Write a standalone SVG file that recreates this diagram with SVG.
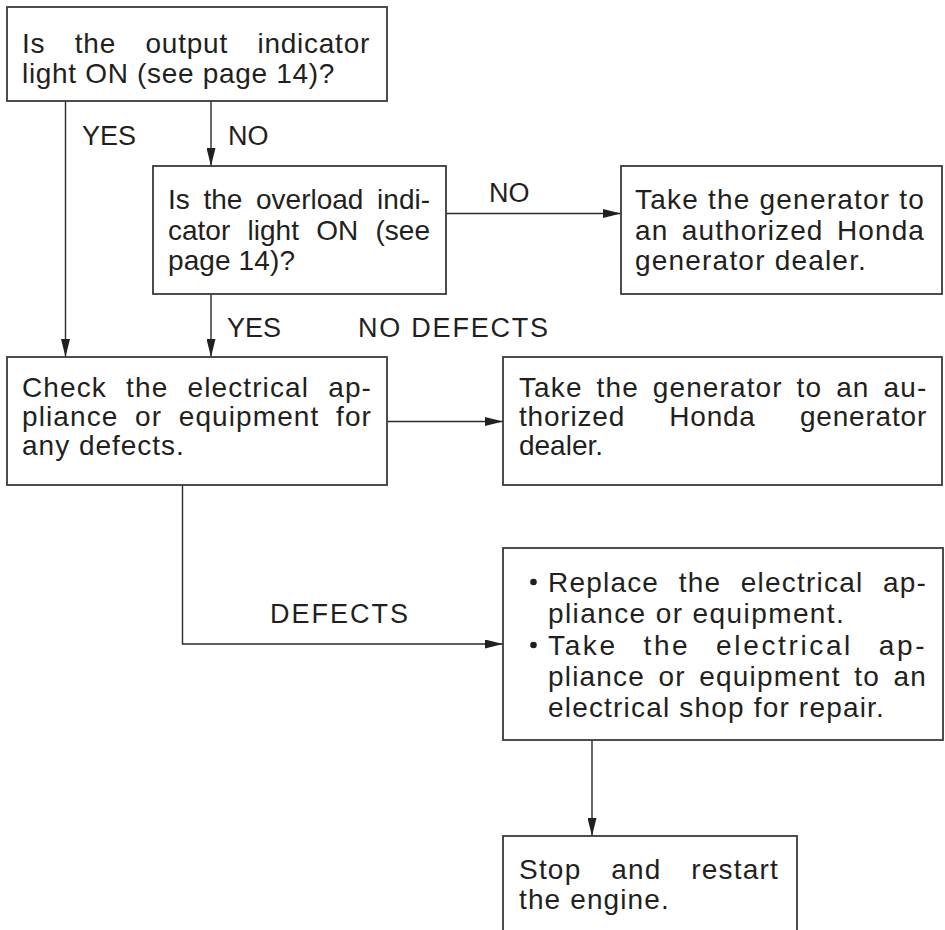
<svg xmlns="http://www.w3.org/2000/svg" width="945" height="930" viewBox="0 0 945 930">
<defs>
<style>
.box{fill:#fff;stroke:#3a3a3a;stroke-width:1.8}
.t{font-family:"Liberation Sans",Arial,sans-serif;font-size:28px;fill:#231f20}
.lbl{font-family:"Liberation Sans",Arial,sans-serif;font-size:27px;fill:#231f20}
.con{fill:none;stroke:#2a2a2a;stroke-width:1.4}
.dot{fill:#231f20}
</style>
<marker id="ah" markerWidth="18" markerHeight="9" refX="18" refY="4.5" orient="auto" markerUnits="userSpaceOnUse">
<path d="M0,0 L18,4.5 L0,9 z" fill="#231f20"/>
</marker>
</defs>
<rect width="945" height="930" fill="#fff"/>

<g id="connectors">
<path class="con" d="M65.5,101 V357" marker-end="url(#ah)"/>
<path class="con" d="M211,101 V166" marker-end="url(#ah)"/>
<path class="con" d="M446,213.5 H621" marker-end="url(#ah)"/>
<path class="con" d="M211,294 V357" marker-end="url(#ah)"/>
<path class="con" d="M387,421.5 H503" marker-end="url(#ah)"/>
<path class="con" d="M182.5,485 V644 H503" marker-end="url(#ah)"/>
<path class="con" d="M592,740 V836" marker-end="url(#ah)"/>
<text class="lbl" x="82" y="145">YES</text>
<text class="lbl" x="228" y="145">NO</text>
<text class="lbl" x="489" y="202">NO</text>
<text class="lbl" x="227" y="337">YES</text>
<text class="lbl" x="358" y="337" textLength="190" lengthAdjust="spacing">NO DEFECTS</text>
<text class="lbl" x="270" y="623" textLength="138" lengthAdjust="spacing">DEFECTS</text>
</g>

<g id="output-light">
<rect class="box" x="7" y="7" width="380" height="94"/>
<text class="t" x="22" y="53" style="letter-spacing:0.7px;word-spacing:21px" textLength="348" lengthAdjust="spacing">Is the output indicator</text>
<text class="t" x="22" y="83" style="letter-spacing:0.7px" textLength="313" lengthAdjust="spacing">light ON (see page 14)?</text>
</g>

<g id="overload-light">
<rect class="box" x="153" y="166" width="293" height="128"/>
<text class="t" x="168" y="209" style="word-spacing:5.9px" textLength="262" lengthAdjust="spacing">Is the overload indi-</text>
<text class="t" x="168" y="240" style="word-spacing:9.5px" textLength="262" lengthAdjust="spacing">cator light ON (see</text>
<text class="t" x="168" y="270" textLength="127" lengthAdjust="spacing">page 14)?</text>
</g>

<g id="dealer-1">
<rect class="box" x="621" y="166" width="321" height="128"/>
<text class="t" x="635" y="209" style="letter-spacing:1.1px" textLength="290" lengthAdjust="spacing">Take the generator to</text>
<text class="t" x="635" y="240" style="letter-spacing:1.1px;word-spacing:4.6px" textLength="290" lengthAdjust="spacing">an authorized Honda</text>
<text class="t" x="635" y="270" style="letter-spacing:1.1px" textLength="232" lengthAdjust="spacing">generator dealer.</text>
</g>

<g id="check-appliance">
<rect class="box" x="7" y="357" width="380" height="128"/>
<text class="t" x="22" y="397" style="letter-spacing:1.1px;word-spacing:10.4px" textLength="350" lengthAdjust="spacing">Check the electrical ap-</text>
<text class="t" x="22" y="426" style="letter-spacing:1.1px;word-spacing:7.7px" textLength="350" lengthAdjust="spacing">pliance or equipment for</text>
<text class="t" x="22" y="455" style="letter-spacing:1.1px" textLength="163" lengthAdjust="spacing">any defects.</text>
</g>

<g id="dealer-2">
<rect class="box" x="503" y="357" width="439" height="128"/>
<text class="t" x="519" y="397" style="letter-spacing:0.8px;word-spacing:5.1px" textLength="408" lengthAdjust="spacing">Take the generator to an au-</text>
<text class="t" x="519" y="426" style="letter-spacing:0.8px;word-spacing:35.6px" textLength="408" lengthAdjust="spacing">thorized Honda generator</text>
<text class="t" x="519" y="455" textLength="84" lengthAdjust="spacing">dealer.</text>
</g>

<g id="replace-appliance">
<rect class="box" x="503" y="548" width="440" height="192"/>
<circle class="dot" cx="533.5" cy="582" r="3.3"/>
<circle class="dot" cx="533.5" cy="645" r="3.3"/>
<text class="t" x="548" y="592" style="letter-spacing:1.2px;word-spacing:10.6px" textLength="379" lengthAdjust="spacing">Replace the electrical ap-</text>
<text class="t" x="548" y="623" style="letter-spacing:1.2px" textLength="297" lengthAdjust="spacing">pliance or equipment.</text>
<text class="t" x="548" y="655" style="letter-spacing:2.5px;word-spacing:15.4px" textLength="379" lengthAdjust="spacing">Take the electrical ap-</text>
<text class="t" x="548" y="686" style="letter-spacing:1.2px;word-spacing:4.5px" textLength="379" lengthAdjust="spacing">pliance or equipment to an</text>
<text class="t" x="548" y="717" style="letter-spacing:1.2px" textLength="337" lengthAdjust="spacing">electrical shop for repair.</text>
</g>

<g id="restart-engine">
<rect class="box" x="503" y="836" width="294" height="120"/>
<text class="t" x="519" y="879" style="letter-spacing:1.2px;word-spacing:20.8px" textLength="260" lengthAdjust="spacing">Stop and restart</text>
<text class="t" x="519" y="909" style="letter-spacing:1.2px" textLength="151" lengthAdjust="spacing">the engine.</text>
</g>
</svg>
